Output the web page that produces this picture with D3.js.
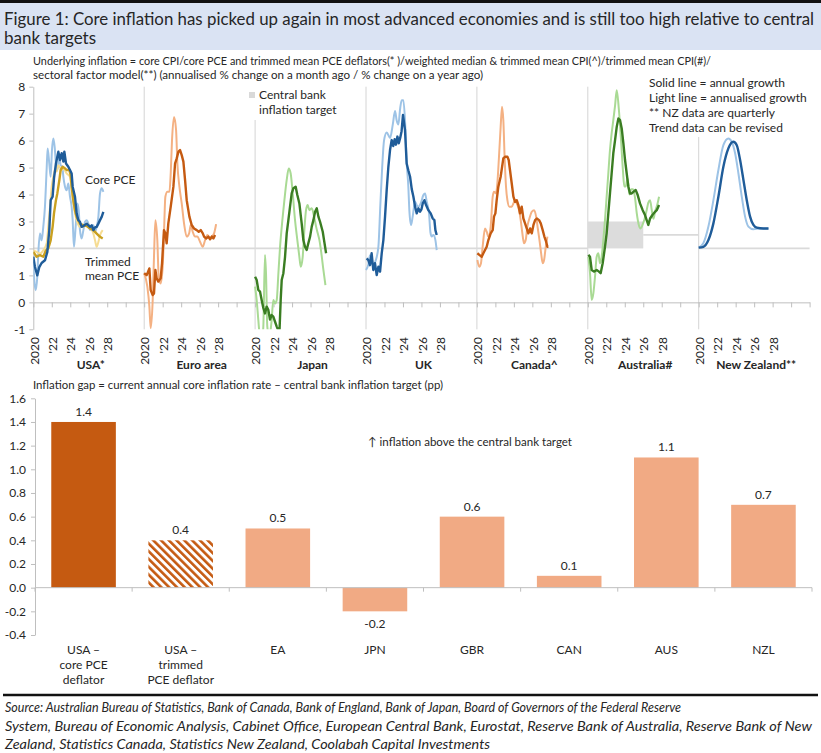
<!DOCTYPE html>
<html>
<head>
<meta charset="utf-8">
<script src="https://cdn.jsdelivr.net/npm/d3@7"></script>
<style>
  body { margin: 0; background: #fff; }
  text { font-family: Lato, "Open Sans", sans-serif; fill: #262626; }
</style>
</head>
<body>
<div id="chart"></div>
<script>
// ---------- data: top panel (decimal year, % ) ----------
var panels = ["USA*", "Euro area", "Japan", "UK", "Canada^", "Australia#", "New Zealand**"];
var yearLabels = ["2020", "'22", "'24", "'26", "'28"];

var usCoreAnnualised = [[2020.00,1.56],[2020.11,0.82],[2020.25,0.45],[2020.43,0.94],[2020.54,1.81],[2020.72,2.55],[2020.90,2.30],[2021.08,2.80],[2021.26,3.54],[2021.44,4.91],[2021.55,5.71],[2021.73,5.15],[2021.88,4.66],[2022.02,5.65],[2022.17,6.08],[2022.31,5.77],[2022.45,5.15],[2022.60,4.91],[2022.82,5.40],[2022.96,5.09],[2023.14,5.03],[2023.25,4.66],[2023.43,4.29],[2023.61,4.16],[2023.79,4.41],[2023.97,3.92],[2024.15,3.54],[2024.26,3.05],[2024.40,2.06],[2024.58,2.80],[2024.77,3.67],[2024.91,3.42],[2025.05,2.68],[2025.23,2.37],[2025.42,2.68],[2025.60,2.99],[2025.78,3.05],[2025.96,2.92],[2026.14,2.68],[2026.32,2.80],[2026.50,2.86],[2026.68,2.61],[2026.86,2.80],[2027.04,3.17],[2027.22,4.04],[2027.40,4.23],[2027.58,4.10]];
var usCoreAnnual = [[2020.00,1.69],[2020.18,1.31],[2020.43,1.00],[2020.65,1.31],[2020.90,1.46],[2021.26,1.56],[2021.52,1.87],[2021.73,2.68],[2021.88,3.79],[2022.09,3.92],[2022.24,4.60],[2022.45,5.15],[2022.71,5.59],[2022.89,5.28],[2023.07,5.53],[2023.25,5.22],[2023.36,5.59],[2023.54,5.15],[2023.79,5.03],[2023.97,4.91],[2024.15,4.78],[2024.26,4.29],[2024.51,3.92],[2024.69,3.30],[2024.87,3.05],[2025.05,2.99],[2025.23,2.80],[2025.42,2.83],[2025.78,2.92],[2026.14,2.80],[2026.32,2.86],[2026.50,2.68],[2026.68,2.78],[2026.86,2.80],[2027.04,2.92],[2027.22,3.05],[2027.40,3.17],[2027.58,3.36]];
var usTrimAnnualised = [[2020.00,1.93],[2020.36,1.87],[2020.72,1.81],[2021.08,1.93],[2021.44,2.18],[2021.62,2.80],[2021.81,3.54],[2021.99,4.29],[2022.17,4.66],[2022.35,4.91],[2022.53,4.85],[2022.71,5.09],[2023.07,4.91],[2023.25,4.97],[2023.61,4.78],[2023.97,4.66],[2024.15,4.16],[2024.33,3.67],[2024.51,3.30],[2024.69,3.05],[2025.05,2.80],[2025.42,2.80],[2025.78,2.92],[2026.14,2.80],[2026.50,2.55],[2026.68,2.30],[2026.86,2.06],[2027.04,2.24],[2027.22,2.49],[2027.51,2.68]];
var usTrimAnnual = [[2020.00,1.87],[2020.36,1.69],[2020.72,1.75],[2021.08,1.69],[2021.37,1.93],[2021.62,2.00],[2021.88,2.30],[2022.09,2.80],[2022.24,3.30],[2022.45,3.79],[2022.60,4.04],[2022.82,4.54],[2022.96,4.91],[2023.18,5.03],[2023.43,4.97],[2023.61,4.91],[2023.90,4.91],[2024.04,4.72],[2024.15,4.29],[2024.33,3.79],[2024.51,3.42],[2024.69,3.17],[2024.87,3.05],[2025.05,2.92],[2025.42,2.86],[2025.78,2.83],[2026.14,2.74],[2026.50,2.68],[2026.86,2.55],[2027.22,2.43],[2027.51,2.37]];

var euAnnualised = [[2020.00,1.08],[2020.34,0.58],[2020.56,-0.16],[2020.70,-0.96],[2020.92,0.09],[2021.06,1.69],[2021.21,3.05],[2021.42,2.31],[2021.57,0.95],[2021.78,0.70],[2022.00,1.32],[2022.14,2.56],[2022.29,3.92],[2022.51,4.10],[2022.73,4.10],[2022.87,4.78],[2023.01,6.02],[2023.23,6.88],[2023.45,6.39],[2023.59,5.15],[2023.81,4.29],[2024.06,3.67],[2024.31,2.93],[2024.60,2.44],[2024.86,2.56],[2025.04,2.87],[2025.25,2.62],[2025.50,2.44],[2025.76,2.44],[2026.04,2.25],[2026.33,2.06],[2026.59,2.31],[2026.84,2.50],[2027.05,2.37],[2027.31,2.44],[2027.56,2.56],[2027.78,2.90]];
var euAnnual = [[2020.00,1.08],[2020.27,1.01],[2020.56,1.26],[2020.70,0.46],[2020.92,0.27],[2021.06,0.33],[2021.21,1.20],[2021.35,0.89],[2021.53,0.77],[2021.78,0.89],[2021.93,1.45],[2022.14,2.68],[2022.29,2.56],[2022.43,2.19],[2022.61,2.93],[2022.87,3.55],[2023.16,4.29],[2023.34,5.15],[2023.52,5.34],[2023.70,5.59],[2023.88,5.65],[2024.06,5.46],[2024.24,5.22],[2024.42,4.54],[2024.60,3.79],[2024.89,3.18],[2025.14,2.87],[2025.39,2.74],[2025.68,2.68],[2025.90,2.62],[2026.12,2.68],[2026.34,2.56],[2026.48,2.44],[2026.69,2.37],[2026.95,2.44],[2027.13,2.34],[2027.31,2.44],[2027.49,2.37],[2027.67,2.50]];

var jpAnnualised = [[2020.00,0.58],[2020.17,0.09],[2020.35,-0.66],[2020.53,-1.30],[2020.75,-1.40],[2020.89,-0.90],[2021.07,1.76],[2021.18,1.08],[2021.32,-0.90],[2021.54,-1.30],[2021.79,-0.66],[2021.97,0.09],[2022.16,-0.04],[2022.34,0.09],[2022.52,1.08],[2022.70,2.06],[2022.95,3.05],[2023.17,3.79],[2023.42,4.54],[2023.64,4.97],[2023.85,4.78],[2024.07,4.04],[2024.32,3.05],[2024.57,2.31],[2024.79,1.69],[2024.94,1.32],[2025.15,1.69],[2025.33,2.68],[2025.51,3.42],[2025.69,3.61],[2025.87,3.42],[2026.13,3.49],[2026.38,3.18],[2026.60,2.81],[2026.78,2.56],[2026.96,2.31],[2027.17,1.82],[2027.39,1.20],[2027.61,0.64]];
var jpAnnual = [[2020.00,0.95],[2020.17,0.83],[2020.35,0.46],[2020.53,0.40],[2020.71,0.09],[2020.89,-0.21],[2021.07,-0.41],[2021.25,-0.16],[2021.43,-0.28],[2021.61,-0.64],[2021.79,-0.47],[2021.97,-0.53],[2022.16,-0.72],[2022.34,-0.90],[2022.52,-1.05],[2022.63,-1.15],[2022.77,0.09],[2022.88,0.83],[2023.06,1.08],[2023.24,1.69],[2023.42,2.56],[2023.60,3.05],[2023.78,3.55],[2023.96,4.04],[2024.14,4.23],[2024.39,4.29],[2024.57,3.98],[2024.79,3.67],[2025.04,2.93],[2025.22,2.31],[2025.40,2.06],[2025.58,1.94],[2025.76,2.19],[2025.95,2.44],[2026.13,2.81],[2026.31,3.05],[2026.49,3.36],[2026.67,3.49],[2026.85,3.18],[2027.03,2.99],[2027.32,2.62],[2027.46,2.31],[2027.68,1.82]];

var ukAnnualised = [[2020.00,1.20],[2020.25,1.40],[2020.43,1.75],[2020.60,1.50],[2020.80,1.35],[2021.00,1.50],[2021.34,2.06],[2021.55,3.60],[2021.75,5.00],[2021.95,6.00],[2022.24,6.30],[2022.60,6.10],[2022.90,6.60],[2023.14,7.10],[2023.32,6.75],[2023.50,6.60],[2023.70,7.20],[2023.86,7.50],[2024.04,7.50],[2024.22,6.76],[2024.40,5.20],[2024.58,4.30],[2024.69,3.42],[2024.87,2.87],[2025.05,3.18],[2025.31,3.73],[2025.50,3.60],[2025.67,3.55],[2025.92,3.67],[2026.21,3.98],[2026.39,4.04],[2026.57,3.73],[2026.82,3.30],[2026.97,2.60],[2027.11,2.44],[2027.29,2.50],[2027.51,2.31],[2027.65,1.94]];
var ukAnnual = [[2020.07,1.63],[2020.25,1.57],[2020.43,1.38],[2020.61,1.82],[2020.79,1.20],[2020.97,1.45],[2021.16,1.01],[2021.34,1.32],[2021.52,1.14],[2021.70,1.82],[2021.88,2.31],[2022.06,3.18],[2022.24,4.17],[2022.42,5.03],[2022.60,5.65],[2022.78,6.02],[2022.95,5.80],[2023.10,6.05],[2023.25,5.85],[2023.40,6.15],[2023.55,5.90],[2023.70,6.10],[2023.85,6.35],[2024.00,6.95],[2024.10,6.70],[2024.22,6.40],[2024.40,5.15],[2024.58,4.90],[2024.77,4.66],[2024.95,4.20],[2025.13,3.92],[2025.31,3.55],[2025.49,3.30],[2025.67,3.49],[2025.85,3.36],[2026.00,3.45],[2026.14,3.67],[2026.32,3.79],[2026.50,3.61],[2026.75,3.42],[2027.00,3.30],[2027.22,3.11],[2027.40,3.05],[2027.51,2.68],[2027.65,2.50]];

var caAnnualised = [[2020.05,1.57],[2020.26,1.32],[2020.44,1.45],[2020.62,2.06],[2020.88,2.74],[2021.06,2.62],[2021.24,2.44],[2021.49,2.81],[2021.71,3.92],[2021.85,4.10],[2022.07,4.04],[2022.21,4.41],[2022.39,5.40],[2022.57,6.51],[2022.72,7.26],[2022.86,6.76],[2023.01,5.28],[2023.15,4.29],[2023.30,3.79],[2023.51,3.55],[2023.77,3.55],[2023.95,3.67],[2024.13,3.79],[2024.31,3.67],[2024.56,3.42],[2024.74,3.05],[2024.92,2.56],[2025.10,2.19],[2025.28,2.31],[2025.46,2.81],[2025.68,3.11],[2025.94,3.36],[2026.19,3.42],[2026.41,3.18],[2026.59,2.74],[2026.77,2.31],[2026.95,1.82],[2027.12,1.45],[2027.27,1.57],[2027.45,2.06],[2027.63,2.44]];
var caAnnual = [[2020.05,1.82],[2020.26,1.76],[2020.52,1.69],[2020.70,1.82],[2020.88,1.94],[2021.06,2.06],[2021.24,2.31],[2021.49,2.56],[2021.71,2.68],[2021.85,3.18],[2022.00,3.30],[2022.14,3.79],[2022.32,4.29],[2022.57,4.66],[2022.86,5.34],[2023.04,5.40],[2023.30,5.40],[2023.44,5.28],[2023.58,4.91],[2023.77,4.41],[2023.95,3.92],[2024.13,3.73],[2024.31,3.79],[2024.49,3.61],[2024.67,3.30],[2024.85,3.55],[2025.03,3.11],[2025.21,2.93],[2025.39,2.74],[2025.57,2.56],[2025.76,2.74],[2025.94,2.56],[2026.12,2.87],[2026.30,3.05],[2026.48,3.11],[2026.73,3.05],[2026.91,2.93],[2027.12,2.68],[2027.30,2.44],[2027.49,2.25],[2027.63,2.06],[2027.74,2.06]];

var auAnnualised = [[2020.06,1.69],[2020.24,1.08],[2020.42,0.09],[2020.60,0.33],[2020.78,0.95],[2020.96,1.69],[2021.14,1.82],[2021.32,1.45],[2021.50,1.69],[2021.68,2.31],[2021.86,3.05],[2022.04,3.92],[2022.22,4.78],[2022.40,5.65],[2022.58,6.27],[2022.76,6.76],[2022.95,7.30],[2023.13,7.87],[2023.35,7.20],[2023.60,6.00],[2023.80,4.90],[2023.95,4.30],[2024.10,4.30],[2024.30,4.60],[2024.50,4.00],[2024.70,4.20],[2024.90,4.20],[2025.10,3.90],[2025.30,3.30],[2025.50,2.90],[2025.72,2.74],[2025.95,2.90],[2026.15,3.10],[2026.37,3.42],[2026.55,3.70],[2026.74,3.79],[2026.92,3.42],[2027.10,3.10],[2027.30,3.40],[2027.46,3.55],[2027.71,3.92]];
var auAnnual = [[2020.06,1.76],[2020.24,1.69],[2020.42,1.20],[2020.67,1.14],[2020.96,1.20],[2021.21,1.14],[2021.39,1.08],[2021.61,1.45],[2021.86,2.06],[2022.04,2.56],[2022.22,3.30],[2022.40,4.04],[2022.58,4.78],[2022.76,5.53],[2022.95,6.02],[2023.13,6.51],[2023.31,6.82],[2023.49,6.76],[2023.67,6.45],[2023.85,5.90],[2024.03,5.28],[2024.21,4.78],[2024.39,4.29],[2024.57,4.04],[2024.75,4.04],[2024.93,4.10],[2025.18,4.17],[2025.40,3.98],[2025.65,3.67],[2025.94,3.42],[2026.19,3.24],[2026.37,3.05],[2026.55,2.87],[2026.74,3.11],[2026.99,3.24],[2027.28,3.36],[2027.46,3.42],[2027.71,3.61]];

var nzAnnualised = [[2020.00,2.03],[2020.50,2.19],[2021.05,2.81],[2021.59,3.79],[2022.13,4.91],[2022.67,5.83],[2023.21,6.08],[2023.57,5.96],[2023.94,5.53],[2024.30,4.78],[2024.66,3.92],[2025.02,3.18],[2025.38,2.81],[2025.92,2.71],[2026.64,2.74],[2027.55,2.74]];
var nzAnnual = [[2020.00,2.03],[2020.50,2.06],[2021.05,2.31],[2021.59,2.93],[2022.13,3.92],[2022.67,5.03],[2023.21,5.71],[2023.75,5.96],[2024.12,5.83],[2024.48,5.28],[2024.84,4.54],[2025.20,3.79],[2025.56,3.18],[2025.92,2.87],[2026.28,2.77],[2027.00,2.74],[2027.55,2.74]];

// central bank targets: [panel, from year, to year, low, high]
var targetBands = [[0,2020,2032,2,2],[1,2020,2032,2,2],[2,2020,2032,2,2],[3,2020,2032,2,2],[4,2020,2032,2,2],[5,2020,2026,2,3],[5,2026,2032,2.5,2.5],[6,2020,2032,2,2]];

// ---------- data: bottom panel ----------
var gapCategories = [["USA –","core PCE","deflator"],["USA –","trimmed","PCE deflator"],["EA"],["JPN"],["GBR"],["CAN"],["AUS"],["NZL"]];
var gapValues = [1.4, 0.4, 0.5, -0.2, 0.6, 0.1, 1.1, 0.7];

var blueDark = "#1f5c99", blueLight = "#9dc3e6";
var orangeDark = "#c55a11", orangeLight = "#f4b183";
var greenDark = "#3a7d22", greenLight = "#a9da94";
var goldDark = "#c9a020", goldLight = "#f6dc92";

// draw order: light lines first, annual lines on top
var series = [
  { panel: 0, data: usCoreAnnualised, color: blueLight, light: true },
  { panel: 0, data: usTrimAnnualised, color: goldLight, light: true },
  { panel: 0, data: usTrimAnnual, color: goldDark },
  { panel: 0, data: usCoreAnnual, color: blueDark },
  { panel: 1, data: euAnnualised, color: orangeLight, light: true },
  { panel: 1, data: euAnnual, color: orangeDark },
  { panel: 2, data: jpAnnualised, color: greenLight, light: true },
  { panel: 2, data: jpAnnual, color: greenDark },
  { panel: 3, data: ukAnnualised, color: blueLight, light: true },
  { panel: 3, data: ukAnnual, color: blueDark },
  { panel: 4, data: caAnnualised, color: orangeLight, light: true },
  { panel: 4, data: caAnnual, color: orangeDark },
  { panel: 5, data: auAnnualised, color: greenLight, light: true },
  { panel: 5, data: auAnnual, color: greenDark },
  { panel: 6, data: nzAnnualised, color: blueLight, light: true },
  { panel: 6, data: nzAnnual, color: blueDark }
];

var svgWidth = 821;
var svgHeight = 753;

var svg = d3.select("#chart")
  .append("svg")
  .attr("width", svgWidth)
  .attr("height", svgHeight);

// ---------- header ----------
svg.append("rect").attr("x", 0).attr("y", 0).attr("width", svgWidth).attr("height", 3).attr("fill", "#111");
svg.append("rect").attr("x", 0).attr("y", 3).attr("width", svgWidth).attr("height", 47).attr("fill", "#dae3f3");

svg.append("text").attr("x", 4).attr("y", 25)
  .attr("font-size", "17px").attr("textLength", 810).attr("lengthAdjust", "spacingAndGlyphs")
  .text("Figure 1: Core inflation has picked up again in most advanced economies and is still too high relative to central");
svg.append("text").attr("x", 4).attr("y", 44)
  .attr("font-size", "17px")
  .text("bank targets");

svg.append("text").attr("x", 33).attr("y", 65)
  .attr("font-size", "11.5px").attr("textLength", 678).attr("lengthAdjust", "spacingAndGlyphs")
  .text("Underlying inflation = core CPI/core PCE and trimmed mean PCE deflators(* )/weighted median & trimmed mean CPI(^)/trimmed mean CPI(#)/");
svg.append("text").attr("x", 33).attr("y", 79)
  .attr("font-size", "11.5px").attr("textLength", 450).attr("lengthAdjust", "spacingAndGlyphs")
  .text("sectoral factor model(**) (annualised % change on a month ago / % change on a year ago)");

// ---------- top chart ----------
var x0 = 33.3, x1 = 809.6;
var yTop = d3.scaleLinear().domain([-1, 8]).range([329.3, 86.7]);
var xTop = d3.scaleLinear().domain([0, panels.length * 12]).range([x0, x1]);

function px(panel, year) { return xTop(panel * 12 + (year - 2020)); }

svg.append("clipPath").attr("id", "plotClip")
  .append("rect").attr("x", x0).attr("y", yTop(8)).attr("width", x1 - x0).attr("height", yTop(-1) - yTop(8));

var topGroup = svg.append("g");

// panel separators (cut short where the legend text sits)
var sepTop = [86.7, 86.7, 120, 86.7, 86.7, 86.7, 137];
panels.forEach(function(p, i) {
  if (i === 0) return;
  topGroup.append("line")
    .attr("x1", px(i, 2020)).attr("x2", px(i, 2020))
    .attr("y1", sepTop[i]).attr("y2", yTop(-1))
    .attr("stroke", "#d4d4d4").attr("stroke-width", 1);
});

// target lines and RBA band
targetBands.forEach(function(t) {
  if (t[4] > t[3]) {
    topGroup.append("rect")
      .attr("x", px(t[0], t[1])).attr("width", px(t[0], t[2]) - px(t[0], t[1]))
      .attr("y", yTop(t[4])).attr("height", yTop(t[3]) - yTop(t[4]))
      .attr("fill", "#dcdcdc");
  } else {
    topGroup.append("line")
      .attr("x1", px(t[0], t[1])).attr("x2", px(t[0], t[2]))
      .attr("y1", yTop(t[3])).attr("y2", yTop(t[3]))
      .attr("stroke", "#dadada").attr("stroke-width", 1.8);
  }
});

// y axis
var leftAxis = d3.axisLeft(yTop).tickValues(d3.range(-1, 9)).tickSize(4).tickSizeOuter(0)
  .tickFormat(function(d) { return d < 0 ? "-" + Math.abs(d) : d; });
var yAxisTop = topGroup.append("g").attr("transform", `translate(${x0},0)`).call(leftAxis);
yAxisTop.select(".domain").attr("stroke", "#bfbfbf");
yAxisTop.selectAll(".tick line").attr("stroke", "#bfbfbf");
yAxisTop.selectAll("text").attr("font-size", "12px").attr("fill", "#262626").attr("x", -8)
  .attr("font-family", "Lato, sans-serif");

// x axis crossing at zero
var bottomAxis = d3.axisBottom(xTop).tickValues(d3.range(0, panels.length * 12 + 1, 2))
  .tickSize(5).tickSizeOuter(0).tickFormat("");
var xAxisTop = topGroup.append("g").attr("transform", `translate(0,${yTop(0)})`).call(bottomAxis);
xAxisTop.select(".domain").attr("stroke", "#bfbfbf");
xAxisTop.selectAll(".tick line").attr("stroke", "#bfbfbf");

// rotated year labels and panel names
panels.forEach(function(p, i) {
  yearLabels.forEach(function(lab, j) {
    var xx = px(i, 2020 + j * 2) + 1;
    topGroup.append("text")
      .attr("transform", `translate(${xx},337) rotate(-90)`)
      .attr("text-anchor", "end").attr("dy", "0.35em")
      .attr("font-size", "12px")
      .text(lab);
  });
  topGroup.append("text")
    .attr("x", px(i, 2026) + 2).attr("y", 369)
    .attr("text-anchor", "middle").attr("font-size", "12px").attr("font-weight", "bold")
    .text(p);
});

// lines
var lines = topGroup.append("g").attr("clip-path", "url(#plotClip)");
series.forEach(function(s) {
  var line = d3.line()
    .x(function(d) { return px(s.panel, d[0]); })
    .y(function(d) { return yTop(d[1]); })
    .curve(s.light || s.panel === 6 ? d3.curveMonotoneX : d3.curveLinear);
  lines.append("path")
    .datum(s.data)
    .attr("d", line)
    .attr("fill", "none")
    .attr("stroke", s.color)
    .attr("stroke-width", s.light ? 2 : 2.4)
    .attr("stroke-linejoin", "round");
});

// annotations
topGroup.append("text").attr("x", 85).attr("y", 184).attr("font-size", "12px").text("Core PCE");
topGroup.append("text").attr("x", 85).attr("y", 266).attr("font-size", "12px").text("Trimmed");
topGroup.append("text").attr("x", 85).attr("y", 280).attr("font-size", "12px").text("mean PCE");

topGroup.append("rect").attr("x", 249).attr("y", 92).attr("width", 6).attr("height", 6).attr("fill", "#d9d9d9");
topGroup.append("text").attr("x", 259).attr("y", 99).attr("font-size", "12px").text("Central bank");
topGroup.append("text").attr("x", 259).attr("y", 114).attr("font-size", "12px").text("inflation target");

var notes = ["Solid line = annual growth", "Light line = annualised growth", "** NZ data are quarterly", "Trend data can be revised"];
notes.forEach(function(n, i) {
  topGroup.append("text").attr("x", 649).attr("y", 87 + i * 15).attr("font-size", "12px").text(n);
});

// ---------- bottom chart ----------
var yBot = d3.scaleLinear().domain([-0.4, 1.6]).range([635, 398.3]);
var xBot = d3.scaleBand().domain(d3.range(gapValues.length)).range([35, 812])
  .paddingInner(0.335).paddingOuter(0.1675);

var botGroup = svg.append("g");

botGroup.append("text").attr("x", 33).attr("y", 389)
  .attr("font-size", "12px").attr("textLength", 410).attr("lengthAdjust", "spacingAndGlyphs")
  .text("Inflation gap = current annual core inflation rate – central bank inflation target (pp)");
botGroup.append("text").attr("x", 368).attr("y", 446)
  .attr("font-size", "12px").attr("textLength", 204).attr("lengthAdjust", "spacingAndGlyphs")
  .text("↑ inflation above the central bank target");

// hatch pattern for trimmed mean bar
var pattern = svg.append("defs").append("pattern")
  .attr("id", "hatch").attr("patternUnits", "userSpaceOnUse")
  .attr("width", 5.5).attr("height", 5.5)
  .attr("patternTransform", "rotate(-45)");
pattern.append("rect").attr("width", 5.5).attr("height", 5.5).attr("fill", "#fff");
pattern.append("rect").attr("width", 2.6).attr("height", 5.5).attr("fill", orangeDark);

var leftAxisBot = d3.axisLeft(yBot).tickValues([-0.4, -0.2, 0, 0.2, 0.4, 0.6, 0.8, 1.0, 1.2, 1.4, 1.6])
  .tickSize(4).tickSizeOuter(0)
  .tickFormat(function(d) { return d.toFixed(1); });
var yAxisBot = botGroup.append("g").attr("transform", "translate(35,0)").call(leftAxisBot);
yAxisBot.select(".domain").attr("stroke", "#bfbfbf");
yAxisBot.selectAll(".tick line").attr("stroke", "#bfbfbf");
yAxisBot.selectAll("text").attr("font-size", "12px").attr("fill", "#262626").attr("x", -9)
  .attr("font-family", "Lato, sans-serif");

// bars
botGroup.selectAll("rect.bar")
  .data(gapValues)
  .enter()
  .append("rect")
  .attr("class", "bar")
  .attr("x", function(d, i) { return xBot(i); })
  .attr("width", xBot.bandwidth())
  .attr("y", function(d) { return yBot(Math.max(0, d)); })
  .attr("height", function(d) { return Math.abs(yBot(d) - yBot(0)); })
  .attr("fill", function(d, i) { return i === 0 ? orangeDark : (i === 1 ? "url(#hatch)" : "#f1aa84"); });

// zero line with ticks at category boundaries
botGroup.append("line").attr("x1", 35).attr("x2", 812).attr("y1", yBot(0)).attr("y2", yBot(0))
  .attr("stroke", "#bfbfbf");
d3.range(gapValues.length + 1).forEach(function(i) {
  var xx = 35 + xBot.step() * i;
  botGroup.append("line").attr("x1", xx).attr("x2", xx).attr("y1", yBot(0)).attr("y2", yBot(0) + 4)
    .attr("stroke", "#bfbfbf");
});

// value labels
botGroup.selectAll("text.val")
  .data(gapValues)
  .enter()
  .append("text")
  .attr("class", "val")
  .attr("x", function(d, i) { return xBot(i) + xBot.bandwidth() / 2; })
  .attr("y", function(d) { return d >= 0 ? yBot(d) - 6 : yBot(d) + 17; })
  .attr("text-anchor", "middle")
  .attr("font-size", "12px")
  .text(function(d) { return d < 0 ? "-" + Math.abs(d).toFixed(1) : d.toFixed(1); });

// category labels
gapCategories.forEach(function(lines, i) {
  var t = botGroup.append("text")
    .attr("x", xBot(i) + xBot.bandwidth() / 2)
    .attr("y", 654)
    .attr("text-anchor", "middle")
    .attr("font-size", "12px");
  lines.forEach(function(l, j) {
    t.append("tspan").attr("x", xBot(i) + xBot.bandwidth() / 2).attr("dy", j === 0 ? 0 : 15).text(l);
  });
});

// ---------- footer ----------
svg.append("line").attr("x1", 3).attr("x2", 818).attr("y1", 695).attr("y2", 695)
  .attr("stroke", "#111").attr("stroke-width", 2.5);
var sources = [
  ["Source: Australian Bureau of Statistics, Bank of Canada, Bank of England, Bank of Japan, Board of Governors of the Federal Reserve", 676],
  ["System, Bureau of Economic Analysis, Cabinet Office, European Central Bank, Eurostat, Reserve Bank of Australia, Reserve Bank of New", 807],
  ["Zealand, Statistics Canada, Statistics New Zealand, Coolabah Capital Investments", 485]
];
sources.forEach(function(s, i) {
  svg.append("text").attr("x", 5).attr("y", 712 + i * 18.5)
    .attr("font-size", "13.5px").attr("font-style", "italic")
    .attr("textLength", s[1]).attr("lengthAdjust", "spacingAndGlyphs")
    .text(s[0]);
});
</script>
</body>
</html>
